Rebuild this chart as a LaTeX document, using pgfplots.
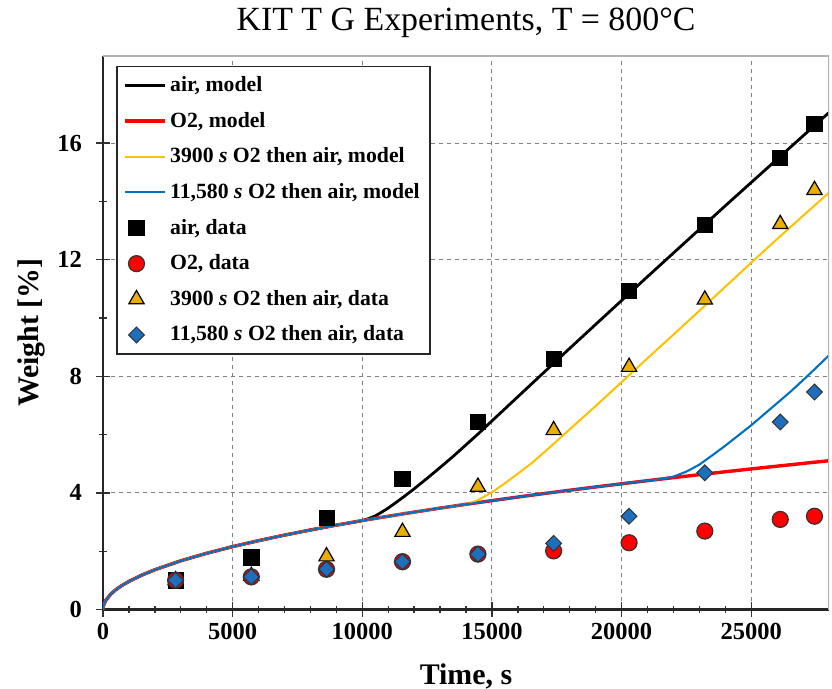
\documentclass[border=0pt]{standalone}
\usepackage{pgfplots}
\pgfplotsset{compat=1.18}
\usepackage{fontspec}
\setmainfont{Liberation Serif}

\definecolor{modelyellow}{RGB}{255,192,0}
\definecolor{modelblue}{RGB}{0,112,192}
\definecolor{markyellow}{RGB}{235,175,0}
\definecolor{markblue}{RGB}{30,110,190}

\begin{document}
\begin{tikzpicture}
\useasboundingbox (0,0) rectangle (416bp,344.5bp);
\begin{axis}[
    at={(51.5bp,39.75bp)}, anchor=south west,
    scale only axis,
    width=363bp, height=276.9bp,
    xmin=0, xmax=28000,
    ymin=0, ymax=19,
    xtick={0,5000,10000,15000,20000,25000},
    ytick={0,4,8,12,16},
    minor x tick num=4,
    minor y tick num=1,
    scaled ticks=false,
    /pgf/number format/set thousands separator={},
    /pgf/number format/assume math mode=true,
    axis lines*=left,
    axis line style={black!85, line width=1.2bp},
    tick align=center,
    major tick length=7bp,
    minor tick length=3.5bp,
    tick style={black!80, line width=0.7bp},
    grid=major,
    major grid style={gray, dash pattern=on 2bp off 2bp, line width=0.5bp},
    tick label style={font=\bfseries\fontsize{12.3}{14}\selectfont},
    yticklabel style={xshift=-3.5bp},
    title={KIT T G Experiments, T = 800°C},
    title style={font=\fontsize{17}{20}\selectfont, at={(0.5,1)}, anchor=base, yshift=6.8bp},
    xlabel={Time, s},
    xlabel style={font=\bfseries\fontsize{15}{17}\selectfont, at={(0.5,0)}, anchor=base, yshift=-37.5bp},
    ylabel={Weight [\%]},
    ylabel style={font=\bfseries\fontsize{15}{17}\selectfont, at={(0,0.5)}, anchor=center, yshift=36bp},
    legend cell align=left,
    legend style={at={(0,1)}, anchor=north west, xshift=6.5bp, yshift=-5bp,
        draw=black!85, line width=0.8bp, fill=white,
        font=\bfseries\fontsize{10.9}{13}\selectfont,
        row sep=4.8bp, inner sep=3bp},
    legend image code/.code={
        \path (0bp,0bp) (20bp,0bp);
        \draw[mark repeat=2,mark phase=2,#1] plot coordinates {(0bp,0bp) (6bp,0bp) (20bp,0bp)};
    },
]

% models
\addplot[black, line width=1.4bp] coordinates {
(0,0) (20,0.136) (100,0.305) (300,0.528) (500,0.682) (700,0.807) (1000,0.964)
(1500,1.181) (2000,1.364) (3000,1.671) (4000,1.929) (5000,2.157) (6000,2.362)
(7000,2.552) (8000,2.728) (9000,2.894) (10000,3.050) (10250,3.12) (10500,3.21)
(10750,3.34) (11000,3.48) (11500,3.80) (12000,4.14) (12500,4.50) (13000,4.87)
(13500,5.25) (14000,5.65) (14500,6.05) (15000,6.47) (16000,7.30) (17000,8.13)
(18000,8.96) (19000,9.78) (20000,10.60) (21000,11.42) (22000,12.23) (23000,13.04)
(24000,13.85) (25000,14.65) (26000,15.45) (27000,16.25) (28000,17.05)
};
\addlegendentry{air, model}

\addplot[red, line width=1.7bp] coordinates {
(0,0) (20,0.136) (100,0.305) (300,0.528) (500,0.682) (700,0.807) (1000,0.964)
(1500,1.181) (2000,1.364) (3000,1.671) (4000,1.929) (5000,2.157) (6000,2.362)
(7000,2.552) (8000,2.728) (9000,2.894) (10000,3.050) (11000,3.199) (12000,3.341)
(13000,3.478) (14000,3.609) (15000,3.735) (16000,3.858) (17000,3.977) (18000,4.092)
(19000,4.204) (20000,4.313) (21000,4.420) (22000,4.524) (23000,4.626) (24000,4.725)
(25000,4.823) (26000,4.918) (27000,5.012) (28000,5.104)
};
\addlegendentry{O2, model}

\addplot[modelyellow, line width=1.0bp] coordinates {
(0,0) (20,0.136) (100,0.305) (300,0.528) (500,0.682) (700,0.807) (1000,0.964)
(1500,1.181) (2000,1.364) (3000,1.671) (4000,1.929) (5000,2.157) (6000,2.362)
(7000,2.552) (8000,2.728) (9000,2.894) (10000,3.050) (11000,3.199) (12000,3.341)
(13000,3.478) (14000,3.609) (14250,3.68) (14500,3.77) (15000,4.02) (15500,4.33)
(16000,4.66) (16500,5.00) (17000,5.38) (17500,5.78) (18000,6.18) (18500,6.58)
(19000,6.98) (19500,7.39) (20000,7.80) (21000,8.62) (22000,9.43) (23000,10.25)
(24000,11.07) (25000,11.90) (26000,12.71) (27000,13.51) (28000,14.30)
};
\addlegendentry{3900 \textit{s} O2 then air, model}

\addplot[modelblue, line width=1.05bp] coordinates {
(0,0) (20,0.136) (100,0.305) (300,0.528) (500,0.682) (700,0.807) (1000,0.964)
(1500,1.181) (2000,1.364) (3000,1.671) (4000,1.929) (5000,2.157) (6000,2.362)
(7000,2.552) (8000,2.728) (9000,2.894) (10000,3.050) (11000,3.199) (12000,3.341)
(13000,3.478) (14000,3.609) (15000,3.735) (16000,3.858) (17000,3.977) (18000,4.092)
(19000,4.204) (20000,4.313) (21000,4.420) (21500,4.472) (22000,4.56) (22500,4.73)
(23000,4.97) (23500,5.29) (24000,5.62) (24500,5.97) (25000,6.32) (25500,6.70)
(26000,7.08) (26500,7.46) (27000,7.87) (27500,8.29) (28000,8.72)
};
\addlegendentry{11,580 \textit{s} O2 then air, model}

% legend images for the data series
\addlegendimage{only marks, mark=square*, mark size=3.8bp, draw=black, fill=black}
\addlegendentry{air, data}
\addlegendimage{only marks, mark=*, mark size=4bp, draw=black!80, fill=red, line width=0.6bp}
\addlegendentry{O2, data}
\addlegendimage{only marks, mark=triangle*, mark size=4.4bp, draw=black, fill=markyellow, line width=0.6bp}
\addlegendentry{3900 \textit{s} O2 then air, data}
\addlegendimage{only marks, mark=square*, mark options={rotate=45}, mark size=2.8bp, draw=black!80, fill=markblue, line width=0.5bp}
\addlegendentry{11,580 \textit{s} O2 then air, data}

% data
\addplot[forget plot, only marks, mark=square*, mark size=3.8bp, draw=black, fill=black] coordinates {
(2800,1.00) (5720,1.79) (8620,3.15) (11550,4.49) (14460,6.43) (17380,8.60)
(20290,10.93) (23210,13.20) (26120,15.49) (27440,16.65)
};
\addplot[forget plot, only marks, mark=triangle*, mark size=4.4bp, draw=black, fill=markyellow, line width=0.6bp] coordinates {
(2800,1.00) (5720,1.15) (8620,1.82) (11550,2.66) (14460,4.21) (17380,6.15)
(20290,8.32) (23210,10.63) (26120,13.22) (27440,14.39)
};
\addplot[forget plot, only marks, mark=*, mark size=4bp, draw=black!80, fill=red, line width=0.6bp] coordinates {
(2800,1.00) (5720,1.12) (8620,1.38) (11550,1.64) (14460,1.90) (17380,2.01)
(20290,2.29) (23210,2.69) (26120,3.09) (27440,3.20)
};
\addplot[forget plot, only marks, mark=square*, mark options={rotate=45}, mark size=2.8bp, draw=black!80, fill=markblue, line width=0.5bp] coordinates {
(2800,1.00) (5720,1.12) (8620,1.38) (11550,1.64) (14460,1.90) (17380,2.27)
(20290,3.20) (23210,4.69) (26120,6.43) (27440,7.46)
};

% top and right frame
\draw[gray!60, line width=1bp] (rel axis cs:0,1) -- (rel axis cs:1,1) -- (rel axis cs:1,0);
\end{axis}
\end{tikzpicture}
\end{document}
